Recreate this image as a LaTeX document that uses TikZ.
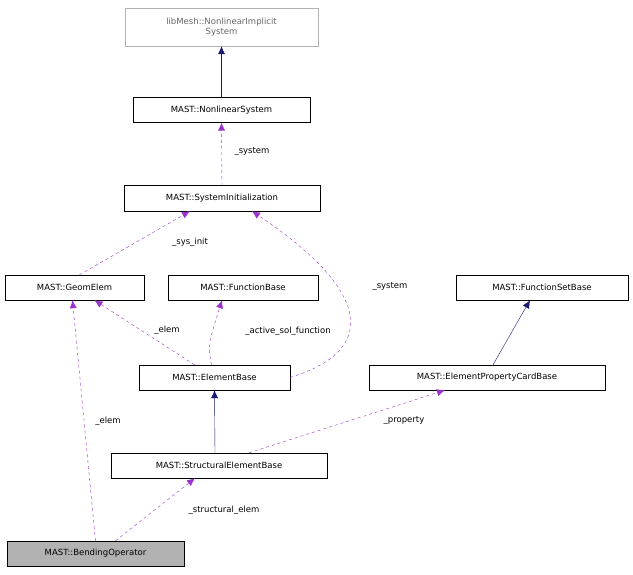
\documentclass[tikz,border=0pt]{standalone}
\usepackage{fontspec}
\setmainfont{DejaVu Sans}
\usetikzlibrary{arrows.meta}
\definecolor{pur}{RGB}{153,50,204}
\definecolor{nav}{RGB}{25,25,112}
\begin{document}
\begin{tikzpicture}[x=1pt,y=-1pt,
  box/.style={draw=black,fill=white,font=\fontsize{8.5}{10}\selectfont,inner sep=0pt,anchor=center},
  inh/.style={draw=nav,-{Latex[length=8pt,width=7pt]}},
  use/.style={draw=pur,dashed,-{Latex[length=8pt,width=7pt]}},
  lab/.style={font=\fontsize{8.5}{10}\selectfont,fill=white,inner sep=1pt}]
\useasboundingbox (0,0) rectangle (633,575);
\node[box,draw=gray!60,text=gray!80!black,minimum width=193pt,minimum height=38pt,align=center] (nis) at (221.5,27) {libMesh::NonlinearImplicit\\System};
\node[box,minimum width=177pt,minimum height=25pt] (ns) at (221.5,110) {MAST::NonlinearSystem};
\node[box,minimum width=196pt,minimum height=26pt] (si) at (222,198) {MAST::SystemInitialization};
\node[box,minimum width=139pt,minimum height=25pt] (ge) at (74.5,287.5) {MAST::GeomElem};
\node[box,minimum width=150pt,minimum height=25pt] (fb) at (243,287.5) {MAST::FunctionBase};
\node[box,minimum width=172pt,minimum height=25pt] (fsb) at (542,287.5) {MAST::FunctionSetBase};
\node[box,minimum width=151pt,minimum height=25pt] (eb) at (214.5,377.5) {MAST::ElementBase};
\node[box,minimum width=236pt,minimum height=25pt] (epc) at (487,377.5) {MAST::ElementPropertyCardBase};
\node[box,minimum width=216pt,minimum height=25pt] (seb) at (219,465.5) {MAST::StructuralElementBase};
\node[box,fill=gray!60,minimum width=177pt,minimum height=25pt] (bo) at (95.5,553.5) {MAST::BendingOperator};

\draw[inh] (ns.north) -- (nis.south);
\draw[use] (si.north) -- (ns.south);
\node[lab,fill=none] at (252,152) {\_system};
\draw[use] ([xshift=5pt]ge.north) -- ([xshift=-32pt]si.south);
\node[lab,fill=none] at (190,242) {\_sys\_init};
\draw[use] ([xshift=-20pt]eb.north) -- ([xshift=20pt]ge.south);
\node[lab,fill=none] at (167,330) {\_elem};
\draw[use] ([xshift=-3pt]eb.north) .. controls (208,345) .. ([xshift=-21pt]fb.south);
\node[lab,fill=none] at (288,331) {\_active\_sol\_function};
\draw[use] (eb.east) .. controls (380,350) and (370,290) .. ([xshift=30pt]si.south);
\node[lab,fill=none] at (390,287) {\_system};
\draw[inh] ([xshift=6pt]epc.north) -- ([xshift=-12pt]fsb.south);
\draw[inh] ([xshift=-4pt]seb.north) -- (eb.south);
\draw[use] ([xshift=30pt]seb.north) -- ([xshift=-42pt]epc.south);
\node[lab,fill=none] at (404,421) {\_property};
\draw[use] (bo.north) -- ([xshift=-2pt]ge.south);
\node[lab,fill=none] at (108,421) {\_elem};
\draw[use] ([xshift=20pt]bo.north) -- ([xshift=-24pt]seb.south);
\node[lab,fill=none] at (224,510) {\_structural\_elem};
\end{tikzpicture}
\end{document}
